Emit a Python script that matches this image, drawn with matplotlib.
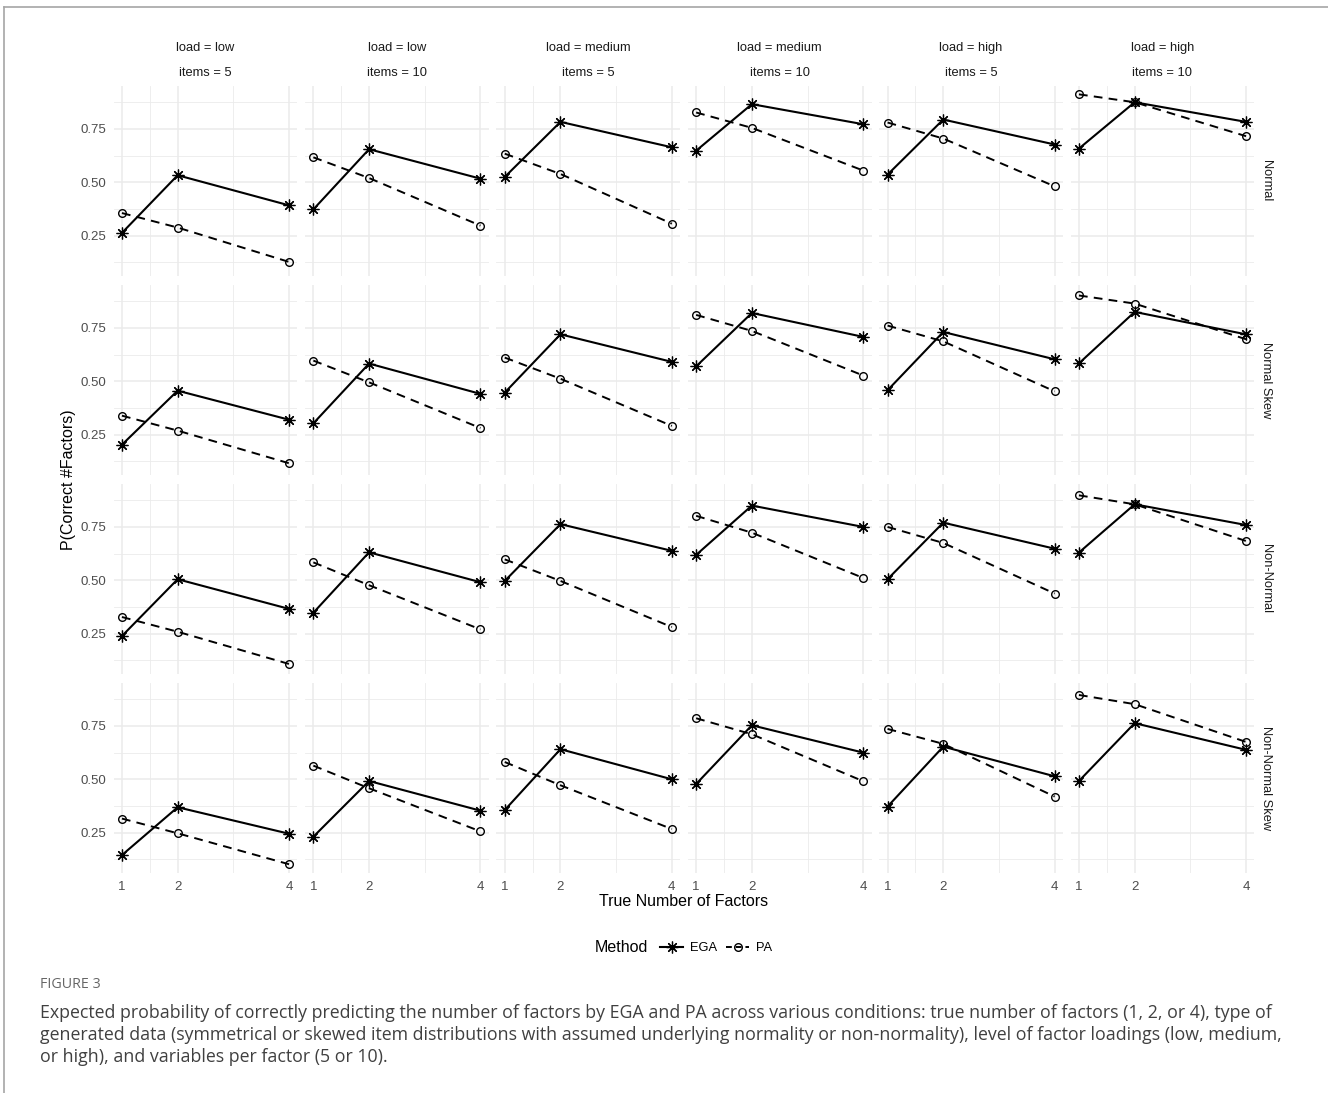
import numpy as np
import matplotlib
matplotlib.use("Agg")
import matplotlib.pyplot as plt
from matplotlib.lines import Line2D
from matplotlib.ticker import FixedLocator

# ---------------- data ----------------
factors = [1, 2, 4]
col_loads = ["low", "low", "medium", "medium", "high", "high"]
col_items = [5, 10, 5, 10, 5, 10]
row_types = ["Normal", "Normal Skew", "Non-Normal", "Non-Normal Skew"]

# each list: one triple (factors 1, 2, 4) per column
ega_normal = [[0.263, 0.533, 0.392], [0.373, 0.655, 0.517], [0.525, 0.783, 0.664],
              [0.648, 0.866, 0.772], [0.536, 0.794, 0.677], [0.658, 0.875, 0.783]]
pa_normal = [[0.356, 0.288, 0.127], [0.617, 0.520, 0.297], [0.634, 0.539, 0.306],
             [0.827, 0.755, 0.555], [0.780, 0.705, 0.481], [0.912, 0.875, 0.716]]

ega_normal_skew = [[0.203, 0.456, 0.320], [0.303, 0.583, 0.441], [0.447, 0.720, 0.591],
                   [0.570, 0.820, 0.708], [0.458, 0.731, 0.603], [0.584, 0.825, 0.720]]
pa_normal_skew = [[0.339, 0.269, 0.116], [0.597, 0.495, 0.281], [0.611, 0.512, 0.291],
                  [0.811, 0.736, 0.527], [0.761, 0.687, 0.453], [0.902, 0.864, 0.697]]

ega_non_normal = [[0.239, 0.505, 0.366], [0.348, 0.631, 0.491], [0.497, 0.763, 0.638],
                  [0.619, 0.850, 0.750], [0.505, 0.770, 0.648], [0.630, 0.856, 0.759]]
pa_non_normal = [[0.328, 0.259, 0.108], [0.584, 0.477, 0.270], [0.598, 0.497, 0.281],
                 [0.802, 0.723, 0.511], [0.750, 0.675, 0.438], [0.898, 0.856, 0.684]]

ega_non_normal_skew = [[0.145, 0.369, 0.245], [0.231, 0.492, 0.353], [0.356, 0.641, 0.500],
                       [0.478, 0.753, 0.625], [0.372, 0.653, 0.514], [0.492, 0.763, 0.638]]
pa_non_normal_skew = [[0.316, 0.247, 0.102], [0.564, 0.458, 0.256], [0.581, 0.472, 0.267],
                      [0.786, 0.711, 0.491], [0.736, 0.666, 0.419], [0.895, 0.852, 0.675]]

ega_rows = [ega_normal, ega_normal_skew, ega_non_normal, ega_non_normal_skew]
pa_rows = [pa_normal, pa_normal_skew, pa_non_normal, pa_non_normal_skew]

x_breaks = [1, 2, 4]
x_minor = [1.5, 3]
y_breaks = [0.25, 0.50, 0.75]
y_minor = [0.125, 0.375, 0.625, 0.875]

caption_lines = [
    "Expected probability of correctly predicting the number of factors by EGA and PA across various conditions: true number of factors (1, 2, or 4), type of",
    "generated data (symmetrical or skewed item distributions with assumed underlying normality or non-normality), level of factor loadings (low, medium,",
    "or high), and variables per factor (5 or 10).",
]

# ---------------- layout ----------------
W, H = 1328, 1093
fig = plt.figure(figsize=(W / 100, H / 100), dpi=100)
fig.patch.set_facecolor("white")
plt.rcParams["font.family"] = ["Liberation Sans", "DejaVu Sans"]

panel_left0 = 113.6
panel_w = 183.8
col_step = 191.4
panel_top0 = 85.7
panel_h = 190.2
row_step = 199.0

all_vals = np.array(ega_rows + pa_rows).ravel()
ymin, ymax = all_vals.min(), all_vals.max()
yr = ymax - ymin
ylim = (ymin - 0.05 * yr, ymax + 0.05 * yr)
xlim = (1 - 0.05 * 3, 4 + 0.05 * 3)

grid_major = "#EBEBEB"
strip_col = "#1A1A1A"
tick_col = "#4D4D4D"

ega_style = dict(color="black", linestyle="-", linewidth=1.5, marker=(8, 2, 0),
                 markersize=8.5, markeredgewidth=0.9)
pa_style = dict(color="black", linestyle=(0, (4.5, 3.2)), linewidth=1.4, marker="o",
                markersize=5.5, markerfacecolor="none", markeredgewidth=1.0)

for r in range(4):
    for c in range(6):
        left = panel_left0 + c * col_step
        top = panel_top0 + r * row_step
        ax = fig.add_axes([left / W, 1 - (top + panel_h) / H, panel_w / W, panel_h / H])
        ax.set_facecolor("white")
        ax.set_xlim(*xlim)
        ax.set_ylim(*ylim)
        for s in ax.spines.values():
            s.set_visible(False)
        ax.xaxis.set_major_locator(FixedLocator(x_breaks))
        ax.xaxis.set_minor_locator(FixedLocator(x_minor))
        ax.yaxis.set_major_locator(FixedLocator(y_breaks))
        ax.yaxis.set_minor_locator(FixedLocator(y_minor))
        ax.grid(which="major", color=grid_major, linewidth=1.1, zorder=0)
        ax.grid(which="minor", color=grid_major, linewidth=0.6, zorder=0)
        ax.tick_params(which="both", length=0, labelsize=9.5, labelcolor=tick_col)
        ax.tick_params(axis="y", pad=5)
        ax.tick_params(axis="x", pad=6)
        if c == 0:
            ax.set_yticklabels([f"{v:.2f}" for v in y_breaks])
        else:
            ax.set_yticklabels([])
        if r == 3:
            ax.set_xticklabels([str(v) for v in x_breaks])
        else:
            ax.set_xticklabels([])

        ax.plot(factors, pa_rows[r][c], zorder=3, **pa_style)
        ax.plot(factors, ega_rows[r][c], zorder=4, **ega_style)

        if r == 0:
            cx = (left + panel_w / 2) / W
            fig.text(cx, 1 - 48 / H, f"load = {col_loads[c]}", ha="center", va="center",
                     fontsize=9.3, color=strip_col)
            fig.text(cx, 1 - 73 / H, f"items = {col_items[c]}", ha="center", va="center",
                     fontsize=9.3, color=strip_col)
        if c == 5:
            cy = 1 - (top + panel_h / 2) / H
            fig.text(1266 / W, cy, row_types[r], ha="center", va="center", rotation=-90,
                     fontsize=9.3, color=strip_col)

# axis titles
fig.text((panel_left0 + (5 * col_step + panel_w) / 2) / W, 1 - 902 / H, "True Number of Factors",
         ha="center", va="center", fontsize=11.5, color="black")
fig.text(68 / W, 1 - (panel_top0 + (3 * row_step + panel_h) / 2) / H, "P(Correct #Factors)",
         ha="center", va="center", rotation=90, fontsize=11.5, color="black")

# legend
fig.text(595 / W, 1 - 948 / H, "Method", ha="left", va="center", fontsize=11.5, color="black")
handles = [Line2D([], [], **ega_style), Line2D([], [], **{**pa_style, "linestyle": (0, (3, 2))})]
fig.legend(handles, ["EGA", "PA"], loc="center left", bbox_to_anchor=(660 / W, 1 - 948 / H),
           ncol=2, frameon=False, fontsize=9.3, handlelength=1.8, handletextpad=0.5,
           columnspacing=0.7, borderpad=0, borderaxespad=0)

# outer frame (top and left)
fig.add_artist(Line2D([4 / W, 1], [1 - 7 / H, 1 - 7 / H], transform=fig.transFigure,
                      color="#A6A6A6", linewidth=1.2))
fig.add_artist(Line2D([4 / W, 4 / W], [0, 1 - 7 / H], transform=fig.transFigure,
                      color="#A6A6A6", linewidth=1.2))

# caption
fig.text(40 / W, 1 - 985 / H, "FIGURE 3", ha="left", va="center", fontsize=10.3,
         color="#666666", family=["Open Sans", "DejaVu Sans"])
for i, line in enumerate(caption_lines):
    fig.text(40 / W, 1 - (1013 + 22 * i) / H, line, ha="left", va="center", fontsize=12.8,
             color="#404040", family=["Open Sans", "DejaVu Sans"])

fig.savefig("out.png", dpi=100, facecolor="white")
